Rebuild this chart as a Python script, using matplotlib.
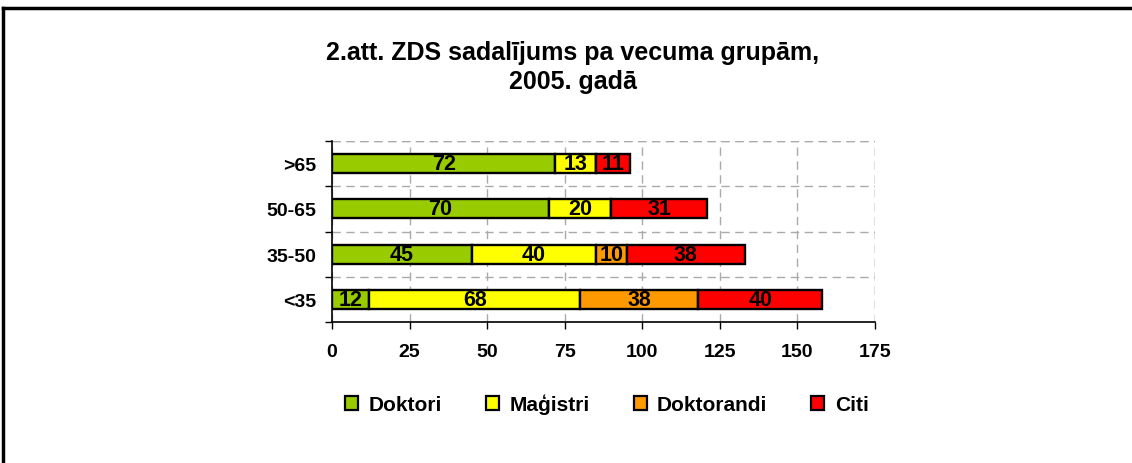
import matplotlib.pyplot as plt
import numpy as np

plt.rcParams['font.family'] = ['Liberation Sans', 'DejaVu Sans']
plt.rcParams['font.weight'] = 'bold'

# dati
grupas = ['<35', '35-50', '50-65', '>65']
doktori = [12, 45, 70, 72]
magistri = [68, 40, 20, 13]
doktorandi = [38, 10, 0, 0]
citi = [40, 38, 31, 11]

series = [('Doktori', doktori, '#99CC00'),
          ('Maģistri', magistri, '#FFFF00'),
          ('Doktorandi', doktorandi, '#FF9900'),
          ('Citi', citi, '#FF0000')]

fig = plt.figure(figsize=(11.32, 4.64), dpi=100)
ax = fig.add_axes([332 / 1132, 1 - 323 / 464, 543 / 1132, 181 / 464])

y = np.arange(len(grupas))
left = np.zeros(len(grupas))
for name, vals, color in series:
    vals = np.array(vals)
    bars = ax.barh(y, vals, left=left, height=0.42, color=color,
                   edgecolor='black', linewidth=1.7, label=name, zorder=3)
    for b, v in zip(bars, vals):
        if v > 0:
            ax.text(b.get_x() + b.get_width() / 2, b.get_y() + b.get_height() / 2,
                    str(v), ha='center', va='center', fontsize=15.5,
                    fontweight='bold', color='black', zorder=4)
    left = left + vals

ax.set_xlim(0, 175)
ax.set_ylim(-0.5, 3.5)
ax.set_xticks(np.arange(0, 176, 25))
ax.set_yticks(y)
ax.set_yticklabels(grupas)
ax.set_yticks(np.arange(-0.5, 3.6, 1), minor=True)

ax.tick_params(axis='y', which='major', length=0, pad=11, labelsize=14)
ax.tick_params(axis='y', which='minor', length=5, width=1)
ax.tick_params(axis='x', which='major', length=5, width=1, pad=10, labelsize=14)

for lab in ax.get_xticklabels() + ax.get_yticklabels():
    lab.set_fontweight('bold')

ax.grid(True, axis='x', which='major', color='#AAAAAA', linestyle=(0, (6, 4)), linewidth=1, zorder=0)
ax.grid(True, axis='y', which='minor', color='#AAAAAA', linestyle=(0, (6, 4)), linewidth=1, zorder=0)
ax.spines['top'].set_visible(False)
ax.spines['right'].set_visible(False)
ax.spines['left'].set_linewidth(1.2)
ax.spines['bottom'].set_linewidth(1.2)
ax.axvline(175, color='#AAAAAA', linestyle=(0, (6, 4)), linewidth=1, zorder=0)
ax.axhline(3.5, color='#AAAAAA', linestyle=(0, (6, 4)), linewidth=1, zorder=0)

fig.text(573 / 1132, 1 - 67.5 / 464, '2.att. ZDS sadalījums pa vecuma grupām,\n2005. gadā',
         ha='center', va='center', fontsize=18, fontweight='bold', linespacing=1.25)

leg = fig.legend(loc='center', bbox_to_anchor=(607 / 1132, 1 - 405 / 464), ncol=4,
                 frameon=False, fontsize=15, handlelength=0.63, handleheight=0.63,
                 handletextpad=0.5, columnspacing=2.1)
for h in leg.legend_handles:
    h.set_linewidth(1.6)

# ramis
fig.add_artist(plt.Line2D([3 / 1132, 3 / 1132], [0, 1 - 9 / 464], color='black', linewidth=2.5))
fig.add_artist(plt.Line2D([3 / 1132, 1], [1 - 9 / 464, 1 - 9 / 464], color='black', linewidth=2.5))

fig.savefig('out.png', dpi=100)
